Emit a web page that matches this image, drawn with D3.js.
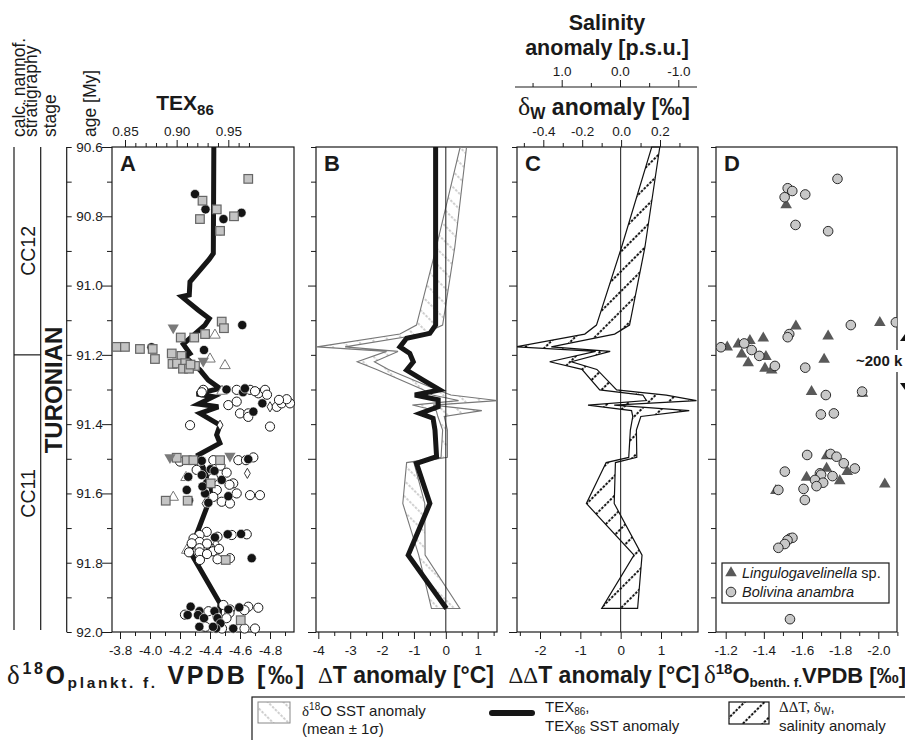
<!DOCTYPE html>
<html>
<head>
<meta charset="utf-8">
<script src="https://cdn.jsdelivr.net/npm/d3@7"></script>
<style>
body { margin: 0; background: #fff; }
text { font-family: "Liberation Sans", Arial, sans-serif; fill: #1a1a1a; }
</style>
</head>
<body>
<div id="canvas"></div>
<script>
"use strict"

/* ---------- data ---------- */

/* Panel A: planktic foraminifera d18O, [age My, d18O permil] */
let openCircles = [[91.301,-4.355],[91.308,-4.345],[91.301,-4.578],[91.301,-4.667],[91.311,-4.722],[91.301,-4.767],
    [91.305,-4.70],[91.315,-4.78],[91.35,-4.845],[91.34,-4.878],[91.34,-4.933],[91.328,-4.911],[91.345,-4.522],
    [91.335,-4.578],[91.369,-4.60],[91.369,-4.655],[91.379,-4.655],[91.407,-4.80],[91.403,-4.267],[91.33,-4.86],
    [91.508,-4.20],[91.504,-4.422],[91.504,-4.589],[91.496,-4.689],[91.504,-4.64],[91.532,-4.311],[91.54,-4.511],
    [91.571,-4.555],[91.575,-4.53],[91.59,-4.445],[91.60,-4.578],[91.605,-4.667],[91.605,-4.733],[91.624,-4.478],
    [91.629,-4.533],[91.61,-4.422],[91.52,-4.47],[91.555,-4.42],
    [91.711,-4.378],[91.72,-4.33],[91.73,-4.29],[91.74,-4.33],[91.725,-4.45],[91.744,-4.278],[91.745,-4.38],
    [91.758,-4.33],[91.767,-4.42],[91.76,-4.46],[91.77,-4.26],[91.77,-4.33],[91.775,-4.38],[91.792,-4.333],
    [91.79,-4.45],[91.787,-4.533],[91.72,-4.545],[91.718,-4.645],
    [91.95,-4.233],[91.922,-4.489],[91.935,-4.533],[91.927,-4.655],[91.93,-4.722],[91.937,-4.63],[91.94,-4.39],
    [91.945,-4.53],[91.96,-4.51],[91.99,-4.48],[91.99,-4.63],[91.99,-4.70],[91.985,-4.37],[91.955,-4.45]];

let blackCircles = [[90.736,-4.30],[90.78,-4.37],[90.808,-4.49],[90.79,-4.61],[90.842,-4.47],[91.114,-4.615],
    [91.178,-4.01],[91.186,-4.36],[91.30,-4.51],[91.308,-4.62],[91.297,-4.633],[91.34,-4.749],[91.364,-4.689],
    [91.506,-4.345],[91.53,-4.405],[91.552,-4.255],[91.547,-4.345],[91.561,-4.478],[91.59,-4.245],[91.60,-4.367],
    [91.608,-4.522],[91.627,-4.389],[91.501,-4.655],[91.535,-4.43],[91.57,-4.38],[91.58,-4.35],[91.62,-4.26],
    [91.727,-4.433],[91.718,-4.518],[91.717,-4.607],[91.787,-4.678],
    [91.927,-4.271],[91.94,-4.33],[91.951,-4.251],[91.951,-4.32],[91.96,-4.36],[91.985,-4.329],[91.94,-4.43],
    [91.96,-4.45],[91.975,-4.47],[91.935,-4.522],[91.929,-4.595],[91.99,-4.555],[91.99,-4.44],[91.985,-4.42]];

let graySquares = [[90.692,-4.655],[90.755,-4.35],[90.78,-4.445],[90.808,-4.333],[90.80,-4.56],[90.842,-4.467],
    [91.104,-4.478],[91.123,-4.493],[91.15,-4.205],[91.15,-4.295],[91.14,-4.367],[91.177,-3.778],[91.177,-3.833],
    [91.183,-3.933],[91.183,-4.018],[91.212,-4.033],[91.196,-4.145],[91.203,-4.21],[91.226,-4.15],[91.225,-4.18],
    [91.224,-4.235],[91.232,-4.30],[91.24,-4.22],[91.24,-4.26],[91.228,-4.27],
    [91.497,-4.178],[91.504,-4.245],[91.504,-4.289],[91.504,-4.467],[91.571,-4.405],[91.621,-4.105],[91.621,-4.251],
    [91.792,-4.505],[91.966,-4.605]];

let openTriangles = [[91.143,-4.433],[91.212,-4.40],[91.231,-4.50],[91.305,-4.48],[91.554,-4.24],[91.611,-4.155],
    [91.764,-4.245]];

let grayDownTriangles = [[91.122,-4.155],[91.218,-4.355],[91.496,-4.133],[91.492,-4.533]];

let openDiamonds = [[91.35,-4.80],[91.403,-4.467],[91.542,-4.649],[91.629,-4.367],[91.75,-4.40],[91.76,-4.36],
    [91.745,-4.44],[91.77,-4.35]];

/* Panel A: TEX86 record */
let texAge   = [90.60, 90.907, 90.924, 90.989, 91.027, 91.032, 91.071, 91.095, 91.114, 91.169, 91.196, 91.205,
                91.244, 91.273, 91.297, 91.313, 91.321, 91.342, 91.35, 91.369, 91.403, 91.431, 91.455, 91.489,
                91.59, 91.629, 91.768, 91.917, 91.994];
let texValue = [0.936, 0.9355, 0.9316, 0.9129, 0.9122, 0.9049, 0.921, 0.9316, 0.9274, 0.9064, 0.9129, 0.908,
                0.9226, 0.9306, 0.9419, 0.9194, 0.9355, 0.921, 0.9403, 0.9226, 0.9419, 0.9387, 0.9419, 0.921,
                0.934, 0.9306, 0.9129, 0.9419, 0.9403];

/* Panel B: TEX86 SST anomaly (deg C) */
let texAnomAge = [90.60, 91.114, 91.138, 91.152, 91.177, 91.196, 91.22, 91.244, 91.273, 91.301, 91.316, 91.33,
                  91.35, 91.369, 91.383, 91.417, 91.494, 91.513, 91.629, 91.778, 91.932];
let texAnom    = [-0.32, -0.32, -0.50, -1.23, -1.44, -1.13, -1.02, -1.23, -0.71, -0.19, -0.97, -0.24,
                  -0.24, -0.81, -0.40, -0.34, -0.29, -0.92, -0.50, -1.18, 0.02];

/* Panel B: d18O SST anomaly, mean +/- 1 sigma (deg C) */
let bandAge  = [90.60, 90.89, 91.114, 91.14, 91.177, 91.19, 91.22, 91.242, 91.301, 91.316, 91.332, 91.345,
                91.361, 91.378, 91.417, 91.496, 91.511, 91.629, 91.778, 91.932];
let sstLow   = [0.45, -0.30, -0.92, -1.44, -4.04, -1.86, -2.78, -2.17, -0.71, -0.42, 0.40, -1.05,
                -0.30, -0.25, -0.10, -0.15, -1.23, -1.35, -0.85, -0.45];
let sstHigh  = [0.65, 0.28, -0.10, -0.70, -3.16, -1.50, -2.24, -1.80, -0.29, 0.16, 1.64, -0.40,
                1.13, -0.05, 0.05, 0.05, -1.00, -0.66, -0.65, 0.44];

/* Panel C: delta-delta T anomaly (deg C), same samples */
let ddtLow   = [0.77, 0.02, -0.60, -0.89, -2.60, -0.62, -1.76, -0.96, -0.52, 0.55, 0.64, -0.81,
                0.27, 0.30, 0.24, 0.20, -0.36, -0.85, 0.33, -0.47];
let ddtHigh  = [0.97, 0.60, 0.22, -0.15, -1.72, -0.26, -1.22, -0.59, -0.10, 1.13, 1.88, -0.16,
                1.70, 0.50, 0.39, 0.40, -0.13, -0.16, 0.53, 0.42];

/* Panel D: benthic foraminifera d18O, [age My, d18O permil] */
let bolivina = [[90.692,-1.786],[90.719,-1.525],[90.727,-1.549],[90.745,-1.509],[90.737,-1.617],[90.825,-1.566],
    [90.843,-1.737],[91.106,-2.092],[91.114,-1.856],[91.14,-1.533],[91.149,-1.525],[91.178,-1.175],[91.167,-1.297],
    [91.186,-1.336],[91.203,-1.376],[91.232,-1.458],[91.237,-1.617],[91.316,-1.725],[91.306,-1.915],[91.372,-1.699],
    [91.369,-1.767],
    [91.489,-1.627],[91.486,-1.75],[91.494,-1.781],[91.513,-1.819],[91.528,-1.877],[91.537,-1.51],[91.542,-1.694],
    [91.546,-1.70],[91.561,-1.668],[91.569,-1.711],[91.579,-1.676],[91.55,-1.76],[91.587,-1.608],[91.59,-1.476],
    [91.619,-1.615],[91.73,-1.537],[91.728,-1.55],[91.735,-1.524],[91.746,-1.51],[91.757,-1.476],[91.963,-1.537]];

let lingulogavelinella = [[90.767,-1.517],[91.117,-1.568],[91.107,-2.008],[91.146,-1.737],[91.178,-1.208],
    [91.169,-1.266],[91.159,-1.327],[91.152,-1.397],[91.198,-1.284],[91.223,-1.318],[91.205,-1.411],[91.239,-1.406],
    [91.244,-1.441],[91.213,-1.716],[91.306,-1.65],[91.311,-1.917],
    [91.492,-1.729],[91.528,-1.729],[91.554,-1.624],[91.537,-1.837],[91.564,-1.798],[91.573,-2.034],[91.592,-1.463]];

/* axis ticks */
let ageTicks   = d3.range(0, 15).map(i => +(90.6 + i * 0.1).toFixed(1));
let d18oPTicks = d3.range(0, 12).map(i => +(-3.8 - i * 0.1).toFixed(1));
let texTicks   = d3.range(0, 13).map(i => +(0.85 + i * 0.01).toFixed(2));
let dtTicks    = d3.range(0, 12).map(i => +(-4 + i * 0.5).toFixed(1));
let ddtTicks   = d3.range(0, 9).map(i => +(-2.5 + i * 0.5).toFixed(1));
let dwTicks    = d3.range(0, 9).map(i => +(-0.5 + i * 0.1).toFixed(1));
let salTicks   = d3.range(0, 6).map(i => +(1.5 - i * 0.5).toFixed(1));
let d18oBTicks = d3.range(0, 10).map(i => +(-1.2 - i * 0.1).toFixed(1));

/* ---------- drawing ---------- */
let drawing = d3.select("#canvas")
    .append("svg")
    .attr("width", 905)
    .attr("height", 740);

drawing.append("rect").attr("width", 905).attr("height", 740).attr("fill", "#fff");

let defs = drawing.append("defs");

/* light gray dashed hatch for the d18O SST band */
let grayHatch = defs.append("pattern")
    .attr("id", "grayHatch")
    .attr("patternUnits", "userSpaceOnUse")
    .attr("width", 11).attr("height", 8)
    .attr("patternTransform", "rotate(-45)");
grayHatch.append("line")
    .attr("x1", 1).attr("y1", 0).attr("x2", 1).attr("y2", 8)
    .attr("stroke", "#c2c2c2").attr("stroke-width", 1.6).attr("stroke-dasharray", "2.5,1.5");

/* black dotted hatch for the delta-delta T band */
let blackHatch = defs.append("pattern")
    .attr("id", "blackHatch")
    .attr("patternUnits", "userSpaceOnUse")
    .attr("width", 14).attr("height", 8)
    .attr("patternTransform", "rotate(45)");
blackHatch.append("line")
    .attr("x1", 1).attr("y1", 0).attr("x2", 1).attr("y2", 8)
    .attr("stroke", "#111").attr("stroke-width", 2).attr("stroke-dasharray", "2.5,1.5");

defs.append("clipPath").attr("id", "clipB").append("rect")
    .attr("x", 316).attr("y", 147).attr("width", 181).attr("height", 485);
defs.append("clipPath").attr("id", "clipC").append("rect")
    .attr("x", 517).attr("y", 140).attr("width", 181).attr("height", 492);
defs.append("clipPath").attr("id", "clipD").append("rect")
    .attr("x", 716).attr("y", 147).attr("width", 181).attr("height", 485);

/* scales */
let yAge = d3.scaleLinear().domain([90.6, 92.0]).range([147, 632]);
let xA   = d3.scaleLinear().domain([-3.8, -4.8]).range([120, 270]);
let xTex = d3.scaleLinear().domain([0.85, 0.95]).range([125, 228.3]);
let xB   = d3.scaleLinear().domain([-4, 1]).range([318.3, 477.7]);
let xC   = d3.scaleLinear().domain([-2, 1]).range([540, 661]);
let xDw  = d3.scaleLinear().domain([-0.4, 0.2]).range([543.3, 660]);
let xSal = d3.scaleLinear().domain([1, -1]).range([561.7, 678.3]);
let xD   = d3.scaleLinear().domain([-1.2, -2.0]).range([725.7, 878.3]);

function isStep(v, step) {
    return Math.abs(v / step - Math.round(v / step)) < 1e-6;
}
function label(step, digits) {
    return v => isStep(v, step) ? v.toFixed(digits).replace("\u2212", "-") : "";
}

/* draws an axis with long (major) and short (minor) ticks */
function drawAxis(axisFn, scale, ticks, step, digits, major, minor, tx, ty, labelGap) {
    let g = drawing.append("g")
        .attr("transform", `translate(${tx},${ty})`)
        .call(axisFn(scale).tickValues(ticks).tickSize(major).tickPadding(labelGap).tickFormat(label(step, digits)));
    g.select(".domain").remove();
    g.selectAll(".tick line")
        .attr("stroke", "#1a1a1a")
        .each(function (d) {
            let line = d3.select(this);
            let len = isStep(d, step) ? major : minor;
            if (line.attr("x2") !== null && +line.attr("x2") !== 0) line.attr("x2", Math.sign(+line.attr("x2")) * len);
            if (line.attr("y2") !== null && +line.attr("y2") !== 0) line.attr("y2", Math.sign(+line.attr("y2")) * len);
        });
    g.selectAll(".tick text")
        .attr("font-size", 13.5)
        .attr("font-family", "'Liberation Sans', Arial, sans-serif")
        .attr("fill", "#1a1a1a");
    return g;
}

/* ----- stratigraphy columns on the left ----- */
let strat = drawing.append("g").attr("stroke", "#1a1a1a").attr("stroke-width", 1.2);
strat.append("line").attr("x1", 14).attr("x2", 14).attr("y1", yAge(90.6)).attr("y2", yAge(92.0) - 2);
strat.append("line").attr("x1", 40.7).attr("x2", 40.7).attr("y1", yAge(90.6)).attr("y2", yAge(92.0) - 2);
strat.append("line").attr("x1", 14).attr("x2", 40.7).attr("y1", yAge(91.2)).attr("y2", yAge(91.2));

function vText(x, y, str, size, weight, anchor) {
    return drawing.append("text")
        .attr("transform", `translate(${x},${y}) rotate(-90)`)
        .attr("text-anchor", anchor)
        .attr("font-size", size)
        .attr("font-weight", weight)
        .text(str);
}
vText(25, 137, "calc. nannof.", 17.5, "normal", "start");
vText(37, 137, "stratigraphy", 17.5, "normal", "start");
vText(56, 137, "stage", 17.5, "normal", "start");
vText(96, 137, "age [My]", 17.5, "normal", "start");
vText(35, yAge(90.9), "CC12", 19.5, "normal", "middle");
vText(35, yAge(91.6), "CC11", 19.5, "normal", "middle");
vText(62, 390, "TURONIAN", 24, "bold", "middle");

/* ----- age axis ----- */
drawing.append("line").attr("x1", 66.7).attr("x2", 66.7)
    .attr("y1", yAge(90.6)).attr("y2", yAge(92.0)).attr("stroke", "#1a1a1a").attr("stroke-width", 1.2);
drawing.append("g").attr("transform", "translate(66.7,0)")
    .call(d3.axisRight(yAge).tickValues(ageTicks).tickSize(5).tickFormat(""))
    .call(g => g.select(".domain").remove())
    .selectAll("line").attr("stroke", "#1a1a1a");
ageTicks.filter(v => isStep(v, 0.2)).forEach(v => {
    drawing.append("text")
        .attr("x", 89.5).attr("y", yAge(v)).attr("dy", "0.36em")
        .attr("text-anchor", "middle").attr("font-size", 13.5)
        .text(v.toFixed(1));
});

/* ----- panel frames ----- */
let frames = [[112, 294], [316, 497], [517, 698], [716, 897]];
frames.forEach(f => {
    drawing.append("rect")
        .attr("x", f[0]).attr("y", yAge(90.6))
        .attr("width", f[1] - f[0]).attr("height", yAge(92.0) - yAge(90.6))
        .attr("fill", "none").attr("stroke", "#1a1a1a").attr("stroke-width", 1.2);
});

/* left ticks of each panel */
drawAxis(d3.axisLeft, yAge, ageTicks, 0.2, 1, 10, 5, 112, 0, 3).selectAll("text").remove();
drawAxis(d3.axisLeft, yAge, ageTicks, 0.5, 1, 8, 5, 316, 0, 3).selectAll("text").remove();
drawAxis(d3.axisLeft, yAge, ageTicks, 0.5, 1, 8, 5, 517, 0, 3).selectAll("text").remove();
drawAxis(d3.axisLeft, yAge, ageTicks, 0.5, 1, 8, 5, 716, 0, 3).selectAll("text").remove();

/* bottom axes */
drawAxis(d3.axisBottom, xA, d18oPTicks, 0.2, 1, 7, 4, 0, 632, 6);
drawAxis(d3.axisBottom, xB, dtTicks, 1, 0, 7, 4, 0, 632, 6);
drawAxis(d3.axisBottom, xC, ddtTicks, 1, 0, 7, 4, 0, 632, 6);
drawAxis(d3.axisBottom, xD, d18oBTicks, 0.2, 1, 7, 4, 0, 632, 6);

/* top axes */
drawAxis(d3.axisTop, xTex, texTicks, 0.05, 2, 7, 4, 0, 147, 4);
drawAxis(d3.axisTop, xDw, dwTicks, 0.2, 1, 7, 4, 0, 147, 4);
drawing.append("line").attr("x1", 515).attr("x2", 697).attr("y1", 87).attr("y2", 87)
    .attr("stroke", "#1a1a1a").attr("stroke-width", 1.2);
drawAxis(d3.axisTop, xSal, salTicks, 1, 1, 7, 4, 0, 87, 4);

/* ----- panel A ----- */
let texLine = d3.line().x((d, i) => xTex(texValue[i])).y(d => yAge(d));
drawing.append("path")
    .attr("d", texLine(texAge))
    .attr("fill", "none").attr("stroke", "#161616").attr("stroke-width", 5);

let sym = (type, size) => d3.symbol().type(type).size(size)();
let panelA = drawing.append("g");
panelA.selectAll(".ot").data(openTriangles).join("path")
    .attr("d", sym(d3.symbolTriangle, 48))
    .attr("transform", d => `translate(${xA(d[1])},${yAge(d[0])})`)
    .attr("fill", "#fff").attr("stroke", "#777").attr("stroke-width", 1);
panelA.selectAll(".od").data(openDiamonds).join("path")
    .attr("d", sym(d3.symbolDiamond, 30))
    .attr("transform", d => `translate(${xA(d[1])},${yAge(d[0])})`)
    .attr("fill", "#fff").attr("stroke", "#222").attr("stroke-width", 0.9);
panelA.selectAll(".oc").data(openCircles).join("circle")
    .attr("cx", d => xA(d[1])).attr("cy", d => yAge(d[0])).attr("r", 4.6)
    .attr("fill", "#fff").attr("stroke", "#1a1a1a").attr("stroke-width", 1);
panelA.selectAll(".bc").data(blackCircles).join("circle")
    .attr("cx", d => xA(d[1])).attr("cy", d => yAge(d[0])).attr("r", 4.6)
    .attr("fill", "#141414").attr("stroke", "#fff").attr("stroke-width", 0.6);
panelA.selectAll(".gs").data(graySquares).join("rect")
    .attr("x", d => xA(d[1]) - 4.3).attr("y", d => yAge(d[0]) - 4.3)
    .attr("width", 8.6).attr("height", 8.6)
    .attr("fill", "#c4c4c4").attr("stroke", "#666").attr("stroke-width", 1.2);
panelA.selectAll(".gt").data(grayDownTriangles).join("path")
    .attr("d", sym(d3.symbolTriangle, 55))
    .attr("transform", d => `translate(${xA(d[1])},${yAge(d[0])}) rotate(180)`)
    .attr("fill", "#7a7a7a");

/* ----- panel B ----- */
let gB = drawing.append("g").attr("clip-path", "url(#clipB)");
let sstArea = d3.area()
    .y(d => yAge(d))
    .x0((d, i) => xB(sstLow[i]))
    .x1((d, i) => xB(sstHigh[i]));
gB.append("path").attr("d", sstArea(bandAge))
    .attr("fill", "url(#grayHatch)").attr("stroke", "#777").attr("stroke-width", 1.1);
gB.append("line").attr("x1", xB(0)).attr("x2", xB(0)).attr("y1", 147).attr("y2", 632)
    .attr("stroke", "#1a1a1a").attr("stroke-width", 1);
let anomLine = d3.line().x((d, i) => xB(texAnom[i])).y(d => yAge(d));
drawing.append("path").attr("d", anomLine(texAnomAge))
    .attr("fill", "none").attr("stroke", "#161616").attr("stroke-width", 5);

/* ----- panel C ----- */
let gC = drawing.append("g").attr("clip-path", "url(#clipC)");
gC.append("line").attr("x1", xC(0)).attr("x2", xC(0)).attr("y1", 147).attr("y2", 632)
    .attr("stroke", "#1a1a1a").attr("stroke-width", 1);
let ddtArea = d3.area()
    .y(d => yAge(d))
    .x0((d, i) => xC(ddtLow[i]))
    .x1((d, i) => xC(ddtHigh[i]));
gC.append("path").attr("d", ddtArea(bandAge))
    .attr("fill", "url(#blackHatch)").attr("stroke", "#111").attr("stroke-width", 1.2);

/* ----- panel D ----- */
let gD = drawing.append("g").attr("clip-path", "url(#clipD)");
gD.selectAll(".lt").data(lingulogavelinella).join("path")
    .attr("d", sym(d3.symbolTriangle, 58))
    .attr("transform", d => `translate(${xD(d[1])},${yAge(d[0])})`)
    .attr("fill", "#595959");
gD.selectAll(".bo").data(bolivina).join("circle")
    .attr("cx", d => xD(d[1])).attr("cy", d => yAge(d[0])).attr("r", 4.8)
    .attr("fill", "#c8c8c8").attr("stroke", "#2a2a2a").attr("stroke-width", 1);

/* ~200 kyr marker */
drawing.append("rect").attr("x", 853).attr("y", 350).attr("width", 60).attr("height", 22).attr("fill", "#fff");
drawing.append("text").attr("x", 856).attr("y", 366).attr("font-size", 15).attr("font-weight", "bold").text("~200 k");
drawing.append("path").attr("d", "M912,324 L900,341 L924,341 Z").attr("fill", "#111");
drawing.append("path").attr("d", "M900,383 L924,383 L912,400 Z").attr("fill", "#111");

/* legend inside D */
drawing.append("rect").attr("x", 722).attr("y", 563).attr("width", 167).attr("height", 40)
    .attr("fill", "#fff").attr("stroke", "#1a1a1a").attr("stroke-width", 1.2);
drawing.append("path").attr("d", sym(d3.symbolTriangle, 58))
    .attr("transform", "translate(731,573)").attr("fill", "#595959");
drawing.append("circle").attr("cx", 731).attr("cy", 592).attr("r", 4.8)
    .attr("fill", "#c8c8c8").attr("stroke", "#2a2a2a");
let lg1 = drawing.append("text").attr("x", 742).attr("y", 578).attr("font-size", 14.5);
lg1.append("tspan").attr("font-style", "italic").text("Lingulogavelinella");
lg1.append("tspan").text(" sp.");
drawing.append("text").attr("x", 742).attr("y", 597).attr("font-size", 14.5)
    .attr("font-style", "italic").text("Bolivina anambra");

/* panel letters */
[["A", 120], ["B", 324], ["C", 525], ["D", 724]].forEach(p => {
    drawing.append("text").attr("x", p[1]).attr("y", 171)
        .attr("font-size", 22).attr("font-weight", "bold").text(p[0]);
});

/* ----- titles ----- */
let serif = "'Liberation Serif', 'Times New Roman', serif";

let tTex = drawing.append("text").attr("x", 185).attr("y", 110).attr("text-anchor", "middle")
    .attr("font-size", 21).attr("font-weight", "bold");
tTex.append("tspan").text("TEX");
tTex.append("tspan").attr("font-size", 15).attr("dy", 5).text("86");

drawing.append("text").attr("x", 607).attr("y", 30).attr("text-anchor", "middle")
    .attr("font-size", 21.5).attr("font-weight", "bold").text("Salinity");
drawing.append("text").attr("x", 607).attr("y", 55).attr("text-anchor", "middle")
    .attr("font-size", 21.5).attr("font-weight", "bold").text("anomaly [p.s.u.]");

let tDw = drawing.append("text").attr("x", 604).attr("y", 115).attr("text-anchor", "middle")
    .attr("font-size", 23).attr("font-weight", "bold");
tDw.append("tspan").attr("font-family", serif).attr("font-weight", "normal").attr("font-size", 26).text("\u03b4");
tDw.append("tspan").attr("font-size", 16).attr("dy", 4).text("W");
tDw.append("tspan").attr("dy", -4).text(" anomaly [\u2030]");

/* plankt. title spans the whole width under panel A, as in the original */
let tA = drawing.append("text").attr("x", 7).attr("y", 684)
    .attr("font-size", 25).attr("font-weight", "bold")
    .attr("textLength", 297).attr("lengthAdjust", "spacing");
tA.append("tspan").attr("font-family", serif).attr("font-weight", "normal").attr("font-size", 27).text("\u03b4");
tA.append("tspan").attr("font-size", 16).attr("dy", -10).text("18");
tA.append("tspan").attr("dy", 10).text("O");
tA.append("tspan").attr("font-size", 15.5).attr("dy", 4).text("plankt. f.");
tA.append("tspan").attr("dy", -4).text(" VPDB [\u2030]");

let tB = drawing.append("text").attr("x", 406).attr("y", 683).attr("text-anchor", "middle")
    .attr("font-size", 23).attr("font-weight", "bold");
tB.append("tspan").attr("font-family", serif).attr("font-weight", "normal").text("\u0394");
tB.append("tspan").text("T anomaly [\u00b0C]");
let tC = drawing.append("text").attr("x", 604).attr("y", 683).attr("text-anchor", "middle")
    .attr("font-size", 23).attr("font-weight", "bold");
tC.append("tspan").attr("font-family", serif).attr("font-weight", "normal").text("\u0394\u0394");
tC.append("tspan").text("T anomaly [\u00b0C]");

let tD = drawing.append("text").attr("x", 704).attr("y", 683)
    .attr("font-size", 22).attr("font-weight", "bold");
tD.append("tspan").attr("font-family", serif).attr("font-weight", "normal").attr("font-size", 25).text("\u03b4");
tD.append("tspan").attr("font-size", 15).attr("dy", -9).text("18");
tD.append("tspan").attr("dy", 9).text("O");
tD.append("tspan").attr("font-size", 13.5).attr("dy", 4).text("benth. f.");
tD.append("tspan").attr("dy", -4).text("VPDB [\u2030]");

/* ----- bottom legend ----- */
drawing.append("rect").attr("x", 252).attr("y", 697).attr("width", 670).attr("height", 50)
    .attr("fill", "none").attr("stroke", "#1a1a1a").attr("stroke-width", 1.2);
drawing.append("rect").attr("x", 258).attr("y", 702).attr("width", 32).attr("height", 21)
    .attr("fill", "url(#grayHatch)").attr("stroke", "#888");
let l1 = drawing.append("text").attr("x", 302).attr("y", 716).attr("font-size", 15);
l1.append("tspan").attr("font-family", serif).text("\u03b4");
l1.append("tspan").attr("font-size", 10).attr("dy", -6).text("18");
l1.append("tspan").attr("dy", 6).text("O SST anomaly");
drawing.append("text").attr("x", 302).attr("y", 734).attr("font-size", 15).text("(mean \u00b1 1\u03c3)");

drawing.append("line").attr("x1", 492).attr("x2", 532).attr("y1", 713).attr("y2", 713)
    .attr("stroke", "#161616").attr("stroke-width", 6).attr("stroke-linecap", "round");
let l2 = drawing.append("text").attr("x", 545).attr("y", 712).attr("font-size", 15);
l2.append("tspan").text("TEX");
l2.append("tspan").attr("font-size", 10).attr("dy", 3).text("86");
l2.append("tspan").attr("dy", -3).text(",");
let l3 = drawing.append("text").attr("x", 545).attr("y", 731).attr("font-size", 15);
l3.append("tspan").text("TEX");
l3.append("tspan").attr("font-size", 10).attr("dy", 3).text("86");
l3.append("tspan").attr("dy", -3).text(" SST anomaly");

drawing.append("rect").attr("x", 729).attr("y", 702).attr("width", 40).attr("height", 22)
    .attr("fill", "url(#blackHatch)").attr("stroke", "#111").attr("stroke-width", 1.2);
let l4 = drawing.append("text").attr("x", 779).attr("y", 712).attr("font-size", 15);
l4.append("tspan").attr("font-family", serif).text("\u0394\u0394T, \u03b4");
l4.append("tspan").attr("font-size", 10).attr("dy", 3).text("W");
l4.append("tspan").attr("dy", -3).text(",");
drawing.append("text").attr("x", 779).attr("y", 731).attr("font-size", 15).text("salinity anomaly");
</script>
</body>
</html>
